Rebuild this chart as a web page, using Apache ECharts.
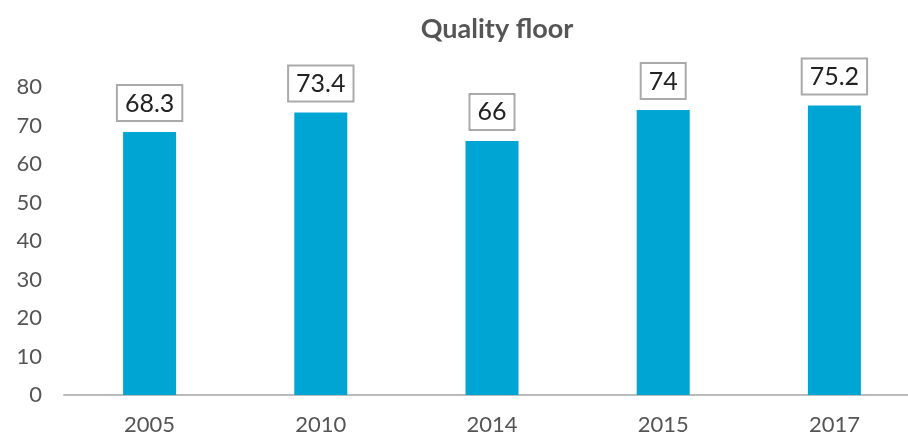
<!DOCTYPE html>
<html>
<head>
<meta charset="utf-8">
<script src="https://cdn.jsdelivr.net/npm/echarts@6/dist/echarts.min.js"></script>
<style>
  html, body { margin: 0; padding: 0; background: #fff; overflow: hidden; }
  /* the source chart is cropped on the right, so the canvas runs past the window */
  #chart { width: 920px; height: 439px; }
</style>
</head>
<body>
<div id="chart"></div>
<script>
  const years = ['2005', '2010', '2014', '2015', '2017'];
  const qualityFloor = [68.3, 73.4, 66, 74, 75.2];

  const chart = echarts.init(document.getElementById('chart'));
  chart.setOption({
    title: {
      text: 'Quality floor',
      left: 492,
      textAlign: 'center',
      top: 11,
      textStyle: { fontFamily: 'Lato', fontWeight: 'bold', fontSize: 27, color: '#555' }
    },
    grid: { left: 64, right: 0, top: 87, bottom: 44 },
    xAxis: {
      type: 'category',
      data: years,
      axisLine: { lineStyle: { color: '#bbb', width: 2 } },
      axisTick: { show: false },
      axisLabel: { fontFamily: 'Lato', fontSize: 22, color: '#555', margin: 19 }
    },
    yAxis: {
      type: 'value',
      min: 0,
      max: 80,
      interval: 10,
      axisLine: { show: false },
      axisTick: { show: false },
      splitLine: { show: false },
      axisLabel: { fontFamily: 'Lato', fontSize: 22, color: '#555', margin: 22 }
    },
    series: [{
      type: 'bar',
      data: qualityFloor,
      barWidth: 53,
      itemStyle: { color: '#00A5D4' },
      label: {
        show: true,
        position: 'top',
        distance: 12,
        fontFamily: 'Lato',
        fontSize: 25,
        color: '#222',
        backgroundColor: '#fff',
        borderColor: '#aaa',
        borderWidth: 2,
        padding: [5, 7, 4, 7]
      }
    }]
  });
</script>
</body>
</html>
